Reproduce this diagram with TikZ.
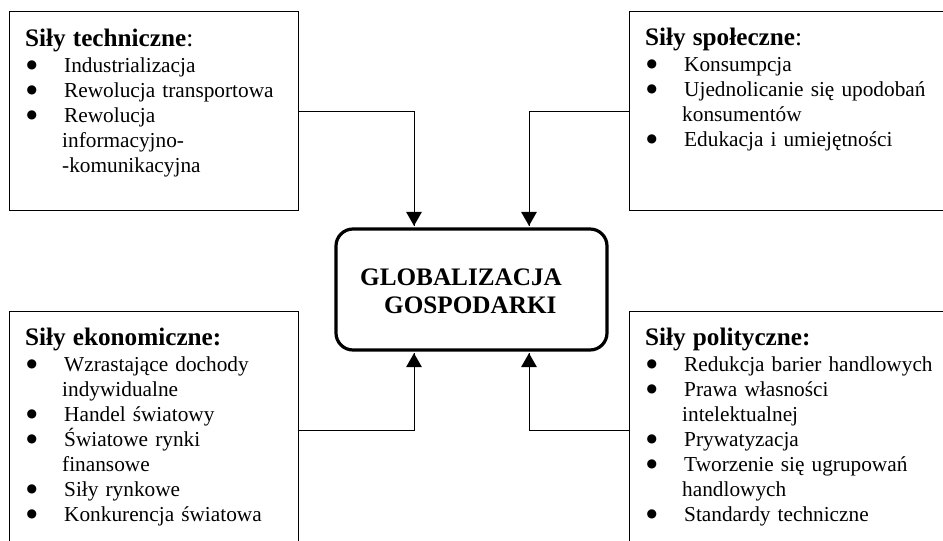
\documentclass[tikz,border=0pt]{standalone}
\usepackage{fontspec}
\setmainfont{Liberation Serif}
\newfontfamily\kropki{DejaVu Sans}
\usetikzlibrary{positioning}

\newcommand{\pkt}[1]{\hspace*{1.5pt}\makebox[37.5pt][l]{\raisebox{4.6pt}{\kropki\fontsize{12}{12}\selectfont ●}}#1}
\newcommand{\ciag}[1]{\hspace*{37pt}#1}
\newcommand{\tytul}[1]{{\fontsize{25.2}{25}\selectfont #1}\\[1.8pt]}

\begin{document}
\begin{tikzpicture}[x=1pt,y=-1pt,
  sila/.style={draw,line width=0.9pt,anchor=north west,minimum width=289pt,minimum height=199pt},
  lista/.style={anchor=base west,text width=290pt,align=left,font=\fontsize{21.3}{25}\selectfont},
  glowny/.style={draw,line width=3.2pt,rounded corners=17pt,minimum width=271pt,minimum height=121pt},
  lacznik/.style={line width=0.9pt}]
\tikzstyle{every node}+=[inner sep=0pt]
\clip (0,0) rectangle (943,541);
% ramki
\node [sila] (tech) at (9,11) {};
\node [sila,minimum width=400pt] (spol) at (629,11) {};
\node [sila,minimum height=238pt] (ekon) at (9,311) {};
\node [sila,minimum width=400pt,minimum height=238pt] (poli) at (629,311) {};
\node [glowny] (glob) at (471.5,289.5) {};
% teksty
\node [lista] (techtxt) at (25,46) {\tytul{\textbf{Siły techniczne}:}
\pkt{Industrializacja}\\
\pkt{Rewolucja transportowa}\\
\pkt{Rewolucja}\\
\ciag{informacyjno-}\\
\ciag{-komunikacyjna}};
\node [lista] (spoltxt) at (645,45) {\tytul{\textbf{Siły społeczne}:}
\pkt{Konsumpcja}\\
\pkt{Ujednolicanie się upodobań}\\
\ciag{konsumentów}\\
\pkt{Edukacja i umiejętności}};
\node [lista] (ekontxt) at (25,345) {\tytul{\textbf{Siły ekonomiczne:}}
\pkt{Wzrastające dochody}\\
\ciag{indywidualne}\\
\pkt{Handel światowy}\\
\pkt{Światowe rynki}\\
\ciag{finansowe}\\
\pkt{Siły rynkowe}\\
\pkt{Konkurencja światowa}};
\node [lista] (politxt) at (645,345) {\tytul{\textbf{Siły polityczne:}}
\pkt{Redukcja barier handlowych}\\
\pkt{Prawa własności}\\
\ciag{intelektualnej}\\
\pkt{Prywatyzacja}\\
\pkt{Tworzenie się ugrupowań}\\
\ciag{handlowych}\\
\pkt{Standardy techniczne}};
\node [anchor=base west,text width=230pt,align=left,font=\fontsize{25.2}{28}\selectfont\bfseries] (globtxt) at (360,285) {GLOBALIZACJA\\
\hspace*{24pt}GOSPODARKI};
% punkty wejscia
\coordinate (we1) at ([shift={(-57.5,-1.6)}]glob.north);
\coordinate (we2) at ([shift={(57.5,-1.6)}]glob.north);
\coordinate (we3) at ([shift={(-57.5,1.6)}]glob.south);
\coordinate (we4) at ([shift={(57.5,1.6)}]glob.south);
% laczniki
\draw [lacznik] (tech.east) -| (we1);
\fill (we1) -- ++(-8,-14) -- ++(16,0) -- cycle;
\draw [lacznik] (spol.west) -| (we2);
\fill (we2) -- ++(-8,-14) -- ++(16,0) -- cycle;
\draw [lacznik] (ekon.east) -| (we3);
\fill (we3) -- ++(-8,14) -- ++(16,0) -- cycle;
\draw [lacznik] (poli.west) -| (we4);
\fill (we4) -- ++(-8,14) -- ++(16,0) -- cycle;
\end{tikzpicture}
\end{document}
